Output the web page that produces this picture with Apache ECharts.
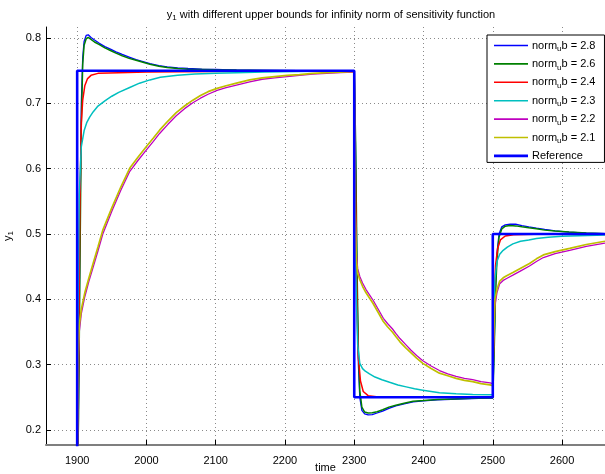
<!DOCTYPE html>
<html>
<head>
<meta charset="utf-8">
<script src="https://cdn.jsdelivr.net/npm/echarts@6/dist/echarts.min.js"></script>
<style>html,body{margin:0;padding:0;background:#fff}#c{width:605px;height:474px}</style>
</head>
<body>
<div id="c"></div>
<script>
const seriesNames = ['norm_ub = 2.8','norm_ub = 2.6','norm_ub = 2.4','norm_ub = 2.3','norm_ub = 2.2','norm_ub = 2.1','Reference'];
const xTickStep = 100;
const yTickStep = 0.1;

const nb28 = [[1900,0.10],[1902,0.25],[1904,0.50],[1906,0.70],[1908,0.77],[1910,0.795],[1913,0.804],[1916,0.805],[1920,0.801],[1925,0.797],[1932,0.792],[1940,0.787],[1948,0.783],[1956,0.779],[1965,0.775],[1975,0.771],[1985,0.767],[1995,0.764],[2005,0.761],[2018,0.758],[2030,0.756],[2045,0.7545],[2060,0.7535],[2080,0.7525],[2100,0.752],[2130,0.751],[2170,0.7505],[2220,0.750],[2300,0.750],
  [2302,0.62],[2304,0.42],[2306,0.30],[2308,0.25],[2311,0.23],[2315,0.2245],[2320,0.223],[2326,0.2235],[2333,0.226],[2341,0.229],[2350,0.233],[2360,0.237],[2372,0.240],[2385,0.243],[2400,0.2445],[2420,0.246],[2440,0.247],[2470,0.248],[2500,0.249],
  [2502,0.33],[2504,0.42],[2506,0.47],[2509,0.50],[2513,0.511],[2518,0.514],[2525,0.515],[2533,0.515],[2542,0.513],[2552,0.511],[2563,0.509],[2575,0.507],[2590,0.505],[2610,0.503],[2635,0.5015],[2662,0.5005]];

const nb26 = [[1900,0.10],[1902,0.22],[1904,0.45],[1906,0.67],[1908,0.76],[1910,0.789],[1913,0.799],[1916,0.801],[1920,0.798],[1925,0.794],[1932,0.790],[1940,0.785],[1948,0.781],[1956,0.777],[1965,0.773],[1975,0.769],[1985,0.766],[1995,0.763],[2005,0.760],[2018,0.757],[2030,0.755],[2045,0.7535],[2060,0.7525],[2080,0.752],[2100,0.7515],[2130,0.751],[2170,0.7505],[2220,0.750],[2300,0.750],
  [2302,0.64],[2304,0.45],[2306,0.32],[2308,0.26],[2311,0.235],[2315,0.2275],[2320,0.226],[2326,0.2265],[2333,0.228],[2341,0.231],[2350,0.235],[2360,0.238],[2372,0.241],[2385,0.244],[2400,0.245],[2420,0.2465],[2440,0.2475],[2470,0.2485],[2500,0.249],
  [2502,0.32],[2504,0.41],[2506,0.46],[2509,0.495],[2513,0.508],[2518,0.512],[2525,0.513],[2533,0.5125],[2542,0.511],[2552,0.5095],[2563,0.508],[2575,0.506],[2590,0.5045],[2610,0.503],[2635,0.5015],[2662,0.5005]];

const nb24 = [[1900,0.10],[1902,0.30],[1904,0.55],[1906,0.67],[1908,0.705],[1911,0.727],[1915,0.738],[1920,0.743],[1930,0.746],[1960,0.747],[2000,0.748],[2100,0.749],[2200,0.7495],[2300,0.750],
  [2302,0.56],[2304,0.38],[2306,0.31],[2309,0.275],[2313,0.259],[2320,0.2525],[2335,0.2505],[2400,0.250],[2500,0.250],
  [2502,0.40],[2504,0.452],[2507,0.478],[2511,0.491],[2518,0.497],[2530,0.499],[2560,0.4995],[2662,0.500]];

const nb23 = [[1900,0.10],[1901,0.35],[1903,0.56],[1906,0.634],[1910,0.658],[1914,0.671],[1918,0.679],[1923,0.687],[1930,0.696],[1940,0.704],[1950,0.711],[1960,0.717],[1975,0.724],[1990,0.731],[2005,0.736],[2020,0.740],[2045,0.743],[2070,0.745],[2100,0.746],[2130,0.747],[2170,0.748],[2220,0.749],[2300,0.750],
  [2301,0.56],[2303,0.40],[2305,0.33],[2308,0.302],[2312,0.294],[2316,0.290],[2322,0.286],[2330,0.281],[2340,0.277],[2351,0.273],[2363,0.269],[2375,0.266],[2387,0.263],[2399,0.261],[2411,0.259],[2423,0.257],[2447,0.2555],[2471,0.2545],[2500,0.254],
  [2501,0.36],[2503,0.43],[2506,0.458],[2510,0.469],[2515,0.475],[2521,0.480],[2529,0.485],[2540,0.489],[2552,0.491],[2563,0.493],[2580,0.495],[2600,0.4965],[2625,0.4975],[2662,0.4985]];

const nb22 = [[1900,0.10],[1901,0.28],[1903,0.35],[1906,0.378],[1911,0.404],[1917,0.428],[1923,0.449],[1930,0.474],[1937,0.500],[1950,0.535],[1963,0.567],[1976,0.596],[1988,0.613],[2000,0.629],[2010,0.642],[2019,0.654],[2031,0.668],[2043,0.681],[2055,0.692],[2067,0.701],[2078,0.708],[2089,0.714],[2102,0.720],[2115,0.724],[2130,0.728],[2149,0.733],[2167,0.737],[2185,0.739],[2203,0.741],[2221,0.743],[2240,0.745],[2260,0.746],[2280,0.747],[2300,0.748],
  [2301,0.56],[2303,0.47],[2305,0.447],[2308,0.435],[2312,0.425],[2317,0.415],[2322,0.407],[2327,0.399],[2334,0.386],[2342,0.371],[2348,0.363],[2355,0.355],[2360,0.348],[2366,0.340],[2374,0.331],[2382,0.322],[2390,0.314],[2399,0.306],[2411,0.298],[2423,0.291],[2435,0.286],[2447,0.282],[2459,0.279],[2471,0.277],[2483,0.274],[2496,0.272],[2500,0.271],
  [2501,0.32],[2503,0.39],[2506,0.41],[2510,0.424],[2515,0.429],[2520,0.432],[2529,0.437],[2541,0.444],[2553,0.451],[2563,0.458],[2573,0.464],[2590,0.470],[2611,0.475],[2635,0.481],[2662,0.486]];

const nb21 = [[1900,0.10],[1901,0.30],[1903,0.36],[1906,0.385],[1911,0.41],[1917,0.433],[1923,0.455],[1930,0.48],[1937,0.506],[1950,0.54],[1963,0.572],[1976,0.601],[1988,0.618],[2000,0.634],[2010,0.647],[2019,0.659],[2031,0.673],[2043,0.686],[2055,0.696],[2067,0.705],[2078,0.712],[2089,0.718],[2102,0.723],[2115,0.727],[2130,0.731],[2149,0.736],[2167,0.739],[2185,0.741],[2203,0.743],[2221,0.744],[2240,0.746],[2260,0.747],[2280,0.748],[2300,0.749],
  [2301,0.55],[2303,0.46],[2305,0.44],[2308,0.430],[2312,0.420],[2317,0.41],[2322,0.402],[2327,0.394],[2334,0.381],[2342,0.366],[2348,0.358],[2355,0.350],[2360,0.343],[2366,0.335],[2374,0.326],[2382,0.318],[2390,0.310],[2399,0.302],[2411,0.294],[2423,0.287],[2435,0.283],[2447,0.279],[2459,0.276],[2471,0.274],[2483,0.271],[2496,0.269],[2500,0.268],
  [2501,0.33],[2503,0.40],[2506,0.415],[2510,0.428],[2515,0.433],[2520,0.436],[2529,0.441],[2541,0.448],[2553,0.455],[2563,0.462],[2573,0.468],[2590,0.473],[2611,0.478],[2635,0.484],[2662,0.489]];

const reference = [[1900,0.10],[1900,0.75],[2300,0.75],[2300,0.25],[2500,0.25],[2500,0.50],[2662,0.50]];

const seriesData = [nb28, nb26, nb24, nb23, nb22, nb21, reference];
const seriesColors = ['#0000ff','#008000','#ff0000','#00bfbf','#bf00bf','#bfbf00','#0000ff'];
const seriesWidths = [1.3,1.5,1.5,1.5,1.3,1.7,2.6];

const FONT = '"Liberation Sans", Arial, Helvetica, sans-serif';
const richMain = () => ({
  n: {fontSize: 11, fontFamily: FONT, color: '#000', lineHeight: 15},
  s: {fontSize: 8, fontFamily: FONT, color: '#000', padding: [7, 0, 0, 0]}
});

function legendLabel(name) {
  const m = name.match(/^norm_u(.*)$/);
  if (m) return '{n|norm}{s|u}{n|' + m[1] + '}';
  return '{n|' + name + '}';
}

function legendIcon(i) {
  const h = i === 6 ? 2.6 : 1.6;
  return 'path://M0,0L34,0L34,' + h + 'L0,' + h + 'Z';
}

const chart = echarts.init(document.getElementById('c'), null, {renderer: 'canvas'});
chart.setOption({
  animation: false,
  backgroundColor: '#fff',
  title: {
    text: '{n|y}{s|1}{n| with different upper bounds for infinity norm of sensitivity function}',
    left: 326, top: 2, textAlign: 'center',
    textStyle: {fontSize: 11, fontWeight: 'normal', fontFamily: FONT, color: '#000', rich: richMain()}
  },
  legend: {
    orient: 'vertical',
    left: 487, top: 35,
    padding: [5, 9, 1, 7],
    itemWidth: 34, itemHeight: 15, itemGap: 5.4,
    backgroundColor: '#fff',
    borderColor: '#000', borderWidth: 1, borderRadius: 0,
    data: seriesNames.map((n, i) => ({name: n, icon: legendIcon(i), itemStyle: {color: seriesColors[i]}})),
    formatter: legendLabel,
    textStyle: {fontSize: 11, fontFamily: FONT, color: '#000', rich: richMain(), padding: [0,0,0,-1]}
  },
  grid: {left: 46, right: 0, top: 27, bottom: 29, containLabel: false, outerBoundsMode: 'none'},
  xAxis: {
    type: 'value', min: 1855, max: 2662,
    minInterval: xTickStep, maxInterval: xTickStep, splitNumber: 8,
    name: 'time', nameLocation: 'middle', nameGap: 17, nameMoveOverlap: false,
    nameTextStyle: {fontSize: 11, fontFamily: FONT, color: '#000'},
    axisLine: {show: true, onZero: false, lineStyle: {color: '#7f7f7f', width: 2}},
    axisTick: {show: true, inside: true, length: 5, lineStyle: {color: '#000'}},
    axisLabel: {fontSize: 11, fontFamily: FONT, color: '#000', margin: 10, showMinLabel: false, showMaxLabel: false,
      formatter: v => String(Math.round(v))},
    splitLine: {show: true, showMinLine: false, showMaxLine: false, lineStyle: {color: '#8a8a8a', type: [1, 3], width: 1}}
  },
  yAxis: {
    type: 'value', min: 0.177, max: 0.817,
    minInterval: yTickStep, maxInterval: yTickStep, splitNumber: 6,
    name: '{n|y}{s|1}', nameLocation: 'middle', nameGap: 31, nameRotate: 90, nameMoveOverlap: false,
    nameTextStyle: {fontSize: 11, fontFamily: FONT, color: '#000', rich: richMain()},
    axisLine: {show: true, onZero: false, lineStyle: {color: '#000', width: 1}},
    axisTick: {show: true, inside: true, length: 5, lineStyle: {color: '#000'}},
    axisLabel: {fontSize: 11, fontFamily: FONT, color: '#000', margin: 5, showMinLabel: false, showMaxLabel: false,
      formatter: v => v.toFixed(1)},
    splitLine: {show: true, showMinLine: false, showMaxLine: false, lineStyle: {color: '#8a8a8a', type: [1, 3], width: 1}}
  },
  series: seriesNames.map((name, i) => ({
    name: name,
    type: 'line',
    data: seriesData[i],
    symbol: 'none',
    showSymbol: false,
    clip: true,
    color: seriesColors[i],
    lineStyle: {color: seriesColors[i], width: seriesWidths[i]},
    z: 2 + i
  }))
});
</script>
</body>
</html>
